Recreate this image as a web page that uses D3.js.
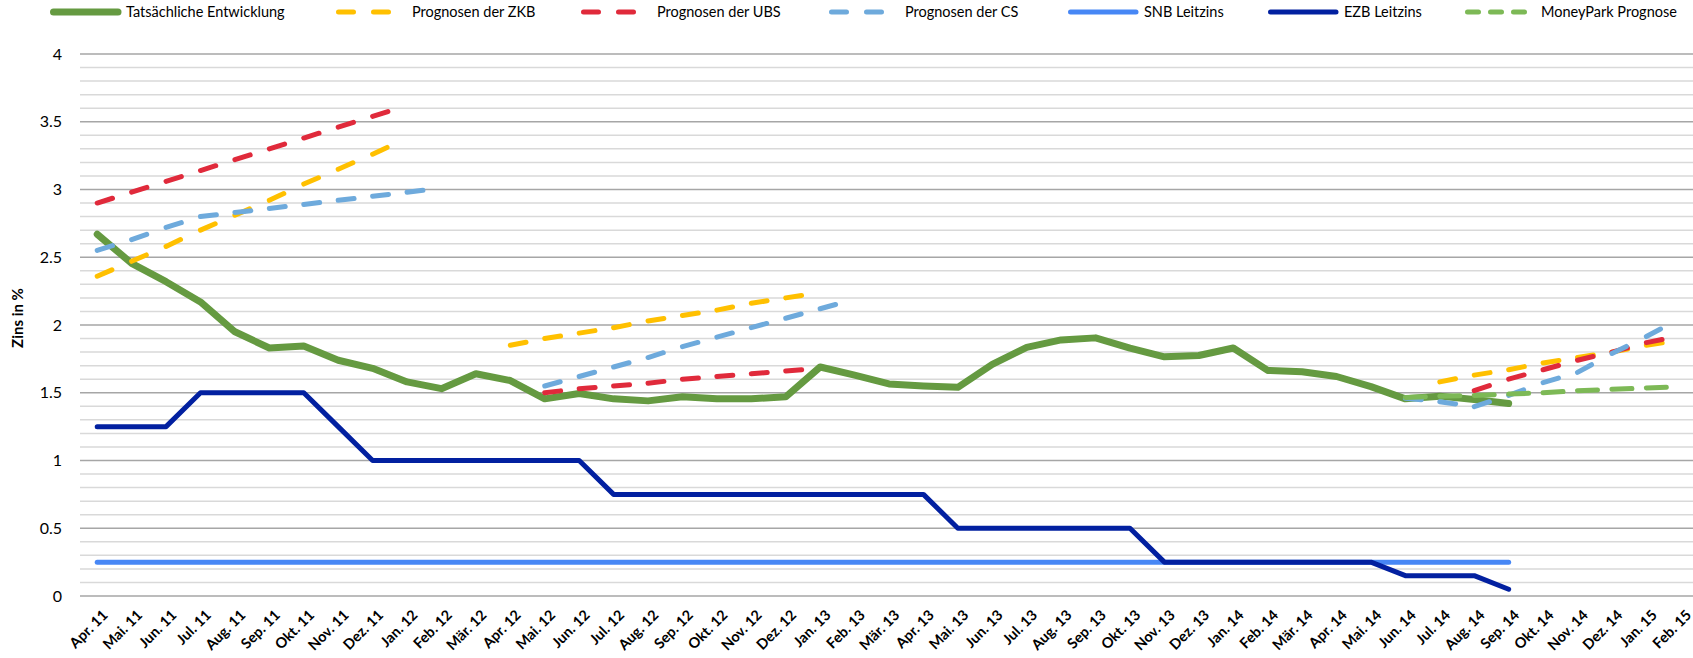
<!DOCTYPE html>
<html>
<head>
<meta charset="utf-8">
<script src="https://cdn.jsdelivr.net/npm/d3@7"></script>
<style>
  body { margin: 0; background: #fff; }
  svg { display: block; font-family: Lato, "Open Sans", sans-serif; }
</style>
</head>
<body>
<svg id="chart" width="1693" height="658"></svg>
<script>
// month labels on the x axis
var months = ["Apr. 11","Mai. 11","Jun. 11","Jul. 11","Aug. 11","Sep. 11","Okt. 11","Nov. 11","Dez. 11",
  "Jan. 12","Feb. 12","Mär. 12","Apr. 12","Mai. 12","Jun. 12","Jul. 12","Aug. 12","Sep. 12","Okt. 12","Nov. 12","Dez. 12",
  "Jan. 13","Feb. 13","Mär. 13","Apr. 13","Mai. 13","Jun. 13","Jul. 13","Aug. 13","Sep. 13","Okt. 13","Nov. 13","Dez. 13",
  "Jan. 14","Feb. 14","Mär. 14","Apr. 14","Mai. 14","Jun. 14","Jul. 14","Aug. 14","Sep. 14","Okt. 14","Nov. 14","Dez. 14",
  "Jan. 15","Feb. 15"];

var yTicks = [0, 0.5, 1, 1.5, 2, 2.5, 3, 3.5, 4];

// values, null = no value
var actual = [2.67,2.455,2.32,2.17,1.95,1.83,1.845,1.74,1.68,1.58,1.53,1.64,1.59,1.455,
  1.495,1.455,1.44,1.47,1.455,1.455,1.47,
  1.69,1.63,1.565,1.55,1.54,1.71,1.835,1.89,1.905,
  1.83,1.765,1.775,1.83,1.665,1.655,1.62,1.545,1.455,1.475,1.45,1.42,
  null,null,null,null,null];

var zkb = [2.36,2.47,2.58,2.70,2.81,2.92,3.04,3.15,3.26,3.38,
  null,null,
  1.85,1.90,1.94,1.98,2.03,2.07,2.11,2.16,2.20,2.24,
  null,null,null,null,null,null,null,null,null,null,null,null,null,null,null,null,null,
  1.58,1.63,1.67,1.72,1.76,1.80,1.85,1.89];

var ubs = [2.90,2.98,3.06,3.14,3.22,3.30,3.38,3.46,3.54,3.62,
  null,null,null,
  1.50,1.53,1.55,1.57,1.60,1.62,1.64,1.66,1.68,
  null,null,null,null,null,null,null,null,null,null,null,null,null,null,null,null,null,null,
  1.515,1.60,1.67,1.74,1.80,1.87,1.92];

var cs = [2.55,2.63,2.72,2.80,2.83,2.86,2.89,2.92,2.95,2.98,3.01,
  null,null,
  1.55,1.62,1.69,1.76,1.84,1.91,1.98,2.05,2.12,2.19,
  null,null,null,null,null,null,null,null,null,null,null,null,null,null,null,
  1.46,1.434,1.397,1.48,1.575,1.65,1.79,1.915,2.05];

var snb = [0.25,0.25,0.25,0.25,0.25,0.25,0.25,0.25,0.25,0.25,0.25,0.25,0.25,0.25,
  0.25,0.25,0.25,0.25,0.25,0.25,0.25,0.25,0.25,0.25,0.25,0.25,0.25,0.25,0.25,0.25,
  0.25,0.25,0.25,0.25,0.25,0.25,0.25,0.25,0.25,0.25,0.25,0.25,
  null,null,null,null,null];

var ezb = [1.25,1.25,1.25,1.5,1.5,1.5,1.5,1.25,1,1,1,1,1,1,1,
  0.75,0.75,0.75,0.75,0.75,0.75,0.75,0.75,0.75,0.75,
  0.5,0.5,0.5,0.5,0.5,0.5,
  0.25,0.25,0.25,0.25,0.25,0.25,0.25,
  0.15,0.15,0.15,0.05,
  null,null,null,null,null];

var moneypark = [null,null,null,null,null,null,null,null,null,null,null,null,null,null,
  null,null,null,null,null,null,null,null,null,null,null,null,null,null,null,null,
  null,null,null,null,null,null,null,null,
  1.465,1.475,1.48,1.49,1.50,1.515,1.525,1.535,1.545];

// series in drawing order (same as legend)
// dashed lines restart their pattern at every point, one dash per month like the original
var series = [
  { name: "Tatsächliche Entwicklung", values: actual,    color: "#659a41", width: 7, dash: null,     legDash: null,    lx: 50 },
  { name: "Prognosen der ZKB",        values: zkb,       color: "#ffc000", width: 5, dash: "16 100", legDash: "15 20", lx: 336 },
  { name: "Prognosen der UBS",        values: ubs,       color: "#e02a3b", width: 5, dash: "16 100", legDash: "15 20", lx: 581 },
  { name: "Prognosen der CS",         values: cs,        color: "#6eaadc", width: 5, dash: "16 100", legDash: "15 20", lx: 829 },
  { name: "SNB Leitzins",             values: snb,       color: "#4787f5", width: 5, dash: null,     legDash: null,    lx: 1068 },
  { name: "EZB Leitzins",             values: ezb,       color: "#0220a0", width: 5, dash: null,     legDash: null,    lx: 1268 },
  { name: "MoneyPark Prognose",       values: moneypark, color: "#7db956", width: 5, dash: "20 100", legDash: "11 12", lx: 1465 }
];

var svg = d3.select("#chart");

var x = d3.scalePoint().domain(months).range([80, 1698]).padding(0.5);
var y = d3.scaleLinear().domain([0, 4]).range([596, 54]);

// gridlines, light ones every 0.1 and darker every 0.5
var minor = d3.range(0, 41).map(function(i){ return i / 10; });
svg.append("g").selectAll("line")
  .data(minor)
  .enter().append("line")
  .attr("x1", 80).attr("x2", 1693)
  .attr("y1", function(d){ return y(d); })
  .attr("y2", function(d){ return y(d); })
  .attr("stroke", function(d){ return (Math.round(d * 10) % 5 === 0) ? "#a6a6a6" : "#d9d9d9"; })
  .attr("stroke-width", 1.5);

// y axis labels
var yAxis = svg.append("g")
  .attr("transform", "translate(80,0)")
  .call(d3.axisLeft(y).tickValues(yTicks).tickSize(0).tickPadding(18).tickFormat(d3.format("")));
yAxis.select(".domain").remove();
yAxis.selectAll("text")
  .attr("font-family", "Lato, sans-serif")
  .attr("font-size", 16)
  .attr("fill", "#000");

svg.append("text")
  .attr("transform", "translate(23,318) rotate(-90)")
  .attr("text-anchor", "middle")
  .attr("font-size", 15)
  .attr("font-weight", "bold")
  .text("Zins in %");

// x axis labels, turned 45 degrees
var xAxis = svg.append("g")
  .attr("transform", "translate(0,596)")
  .call(d3.axisBottom(x).tickSize(0));
xAxis.select(".domain").remove();
xAxis.selectAll("text")
  .attr("font-family", "Lato, sans-serif")
  .attr("font-size", 14.5)
  .attr("font-weight", "bold")
  .attr("fill", "#000")
  .attr("text-anchor", "end")
  .attr("dy", 0)
  .attr("y", 0)
  .attr("transform", "translate(11,20) rotate(-45)");

// the lines
var line = d3.line()
  .defined(function(d){ return d != null; })
  .x(function(d, i){ return x(months[i]); })
  .y(function(d){ return y(d); });

var plot = svg.append("g");

series.forEach(function(s){
  if (!s.dash) {
    plot.append("path")
      .attr("d", line(s.values))
      .attr("fill", "none")
      .attr("stroke", s.color)
      .attr("stroke-width", s.width)
      .attr("stroke-linecap", "round")
      .attr("stroke-linejoin", "round");
    return;
  }
  // one piece per month so the dash starts again at each point
  var pieces = d3.range(s.values.length - 1).filter(function(i){
    return s.values[i] != null && s.values[i + 1] != null;
  });
  plot.selectAll(null)
    .data(pieces)
    .enter().append("line")
    .attr("x1", function(i){ return x(months[i]); })
    .attr("y1", function(i){ return y(s.values[i]); })
    .attr("x2", function(i){ return x(months[i + 1]); })
    .attr("y2", function(i){ return y(s.values[i + 1]); })
    .attr("stroke", s.color)
    .attr("stroke-width", s.width)
    .attr("stroke-linecap", "round")
    .attr("stroke-dasharray", s.dash);
});

// legend on top
var leg = svg.append("g").selectAll("g")
  .data(series)
  .enter().append("g");

leg.append("line")
  .attr("x1", function(s){ return s.lx + (s.width / 2); })
  .attr("x2", function(s){ return s.legDash ? s.lx + 66 : s.lx + 68; })
  .attr("y1", 12).attr("y2", 12)
  .attr("stroke", function(s){ return s.color; })
  .attr("stroke-width", function(s){ return s.width; })
  .attr("stroke-linecap", "round")
  .attr("stroke-dasharray", function(s){ return s.legDash; });

leg.append("text")
  .attr("x", function(s){ return s.lx + 76; })
  .attr("y", 17)
  .attr("font-size", 14.5)
  .attr("fill", "#000")
  .text(function(s){ return s.name; });
</script>
</body>
</html>
